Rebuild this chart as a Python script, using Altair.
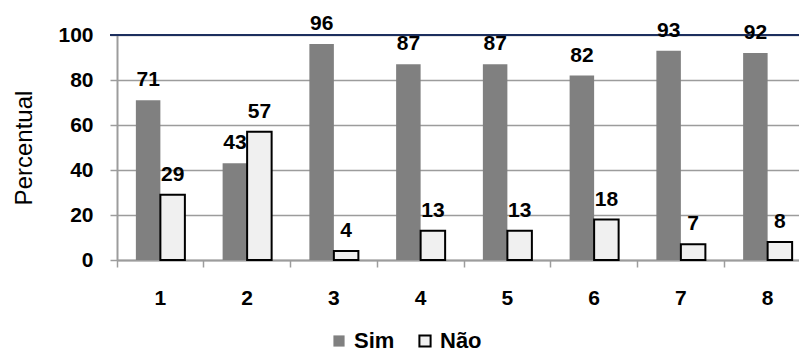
import altair as alt
import pandas as pd

# Survey answers per item (percent)
itens = ["1", "2", "3", "4", "5", "6", "7", "8"]
sim = [71, 43, 96, 87, 87, 82, 93, 92]
nao = [29, 57, 4, 13, 13, 18, 7, 8]
respostas = ["Sim", "Não"]

rows = []
for item, s, n in zip(itens, sim, nao):
    rows.append({"item": item, "resposta": "Sim", "pct": s})
    rows.append({"item": item, "resposta": "Não", "pct": n})
df = pd.DataFrame(rows)

FONT = "Liberation Sans"
W, H = 682, 225
X_RANGE = 694
GRID = "#9c9c9c"

# ticks sit on the category boundaries, labels stay centred on each band
x = alt.X(
    "item:N", sort=itens, title=None,
    scale=alt.Scale(range=[0, X_RANGE], paddingInner=0, paddingOuter=0),
    axis=alt.Axis(
        labelAngle=0, bandPosition=0,
        ticks=True, tickSize=7, tickColor=GRID, tickWidth=1.5,
        domainColor=GRID, domainWidth=2, grid=False,
        labelFont=FONT, labelFontSize=21, labelFontWeight="bold",
        labelColor="black", labelPadding=20,
    ),
)
x_off = alt.XOffset(
    "resposta:N", sort=respostas,
    scale=alt.Scale(paddingInner=0, paddingOuter=0.77),
)
y = alt.Y(
    "pct:Q", title="Percentual",
    scale=alt.Scale(domain=[0, 100], nice=False),
    axis=alt.Axis(
        values=[0, 20, 40, 60, 80, 100], grid=True, gridColor=GRID, gridWidth=1.5,
        domainColor=GRID, domainWidth=2, tickColor=GRID, tickWidth=1.5, tickSize=7,
        labelFont=FONT, labelFontSize=21, labelFontWeight="bold", labelColor="black",
        labelPadding=17, titleFont=FONT, titleFontSize=24, titleFontWeight="normal",
        titleColor="black", titlePadding=21,
    ),
)

fill = alt.Color(
    "resposta:N", sort=respostas, title=None,
    scale=alt.Scale(domain=respostas, range=["#808080", "#f0f0f0"]),
    legend=alt.Legend(
        orient="none", legendX=211, legendY=295, direction="horizontal",
        symbolType="square", symbolSize=125, symbolStrokeWidth=1,
        labelFont=FONT, labelFontSize=22, labelFontWeight="bold", labelColor="black",
        labelOffset=4, columnPadding=19,
    ),
)
stroke = alt.Stroke(
    "resposta:N", sort=respostas, title=None,
    scale=alt.Scale(domain=respostas, range=["#808080", "#000000"]),
)
stroke_w = alt.StrokeWidth(
    "resposta:N", sort=respostas, legend=None,
    scale=alt.Scale(domain=respostas, range=[0, 2]),
)

base = alt.Chart(df).encode(x=x, xOffset=x_off, y=y)

bars = base.mark_bar().encode(fill=fill, stroke=stroke, strokeWidth=stroke_w)

linha_100 = alt.Chart(pd.DataFrame({"v": [100]})).mark_rule(
    color="#1c2f5e", strokeWidth=2
).encode(y=alt.Y("v:Q"), x=alt.value(-7), x2=alt.value(W))

rotulos = base.mark_text(
    font=FONT, fontSize=21, fontWeight="bold", color="black",
    baseline="alphabetic", dy=-14,
).encode(text=alt.Text("pct:Q"))

chart = alt.layer(bars, linha_100, rotulos).properties(
    width=W, height=H,
    autosize=alt.AutoSizeParams(type="none"),
    padding={"left": 117, "top": 35, "right": 0, "bottom": 94},
).configure_view(stroke=None).configure(background="white")

chart.save("out.html", embed_options={"renderer": "svg", "actions": False})
